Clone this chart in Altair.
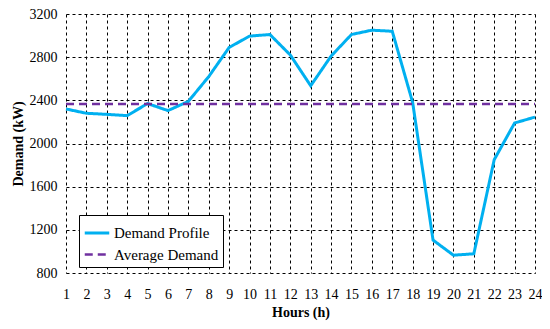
import altair as alt
import pandas as pd

hours = list(range(1, 25))
demand = [2320, 2280, 2270, 2258, 2370, 2305, 2390, 2620, 2890, 2995, 3010, 2820,
          2535, 2810, 3010, 3050, 3040, 2380, 1105, 965, 978, 1850, 2190, 2245]
average = 2365
series_names = ["Demand Profile", "Average Demand"]
y_ticks = [800, 1200, 1600, 2000, 2400, 2800, 3200]

rows = []
for h, d in zip(hours, demand):
    rows.append({"hour": h, "value": d, "series": series_names[0]})
for h in hours:
    rows.append({"hour": h, "value": average, "series": series_names[1]})
df = pd.DataFrame(rows)

font = "Liberation Serif"

chart = alt.Chart(df).mark_line().encode(
    x=alt.X("hour:Q", scale=alt.Scale(domain=[1, 24], nice=False, zero=False),
            axis=alt.Axis(values=hours, format="d", title="Hours (h)", tickSize=0, domain=False,
                          grid=True, gridDash=[3, 3], gridColor="black", gridWidth=1, gridOpacity=1,
                          labelPadding=14, labelFontSize=14, titleFontSize=14, titleFontWeight="bold",
                          labelFont=font, titleFont=font, labelColor="black", titleColor="black",
                          labelOverlap=False, labelFlush=False, titlePadding=4)),
    y=alt.Y("value:Q", scale=alt.Scale(domain=[800, 3200], nice=False, zero=False),
            axis=alt.Axis(values=y_ticks, format="d", title="Demand (kW)", tickSize=0, domain=False,
                          grid=True, gridDash=[3, 3], gridColor="black", gridWidth=1, gridOpacity=1,
                          labelPadding=9, labelFontSize=14, titleFontSize=14, titleFontWeight="bold",
                          labelFont=font, titleFont=font, labelColor="black", titleColor="black",
                          labelFlush=False, titlePadding=4)),
    color=alt.Color("series:N", scale=alt.Scale(domain=series_names, range=["#00B0F0", "#7030A0"]),
                    legend=alt.Legend(title=None, orient="none", legendX=13, legendY=201,
                                      strokeColor="black", fillColor="white", padding=4,
                                      symbolType="stroke", symbolSize=600, symbolStrokeWidth=3,
                                      labelFont=font, labelFontSize=15, labelColor="black",
                                      rowPadding=0, labelOffset=3)),
    strokeDash=alt.StrokeDash("series:N", scale=alt.Scale(domain=series_names, range=[[1, 0], [8, 5]]),
                              legend=None),
    strokeWidth=alt.StrokeWidth("series:N", scale=alt.Scale(domain=series_names, range=[3, 2.5]),
                                legend=None),
).properties(
    width=469, height=259,
    autosize=alt.AutoSizeParams(type="none"),
    padding={"left": 58, "top": 6, "right": 7, "bottom": 48},
).configure_view(stroke=None)

chart.save("out.html", embed_options={"renderer": "svg", "actions": False})
